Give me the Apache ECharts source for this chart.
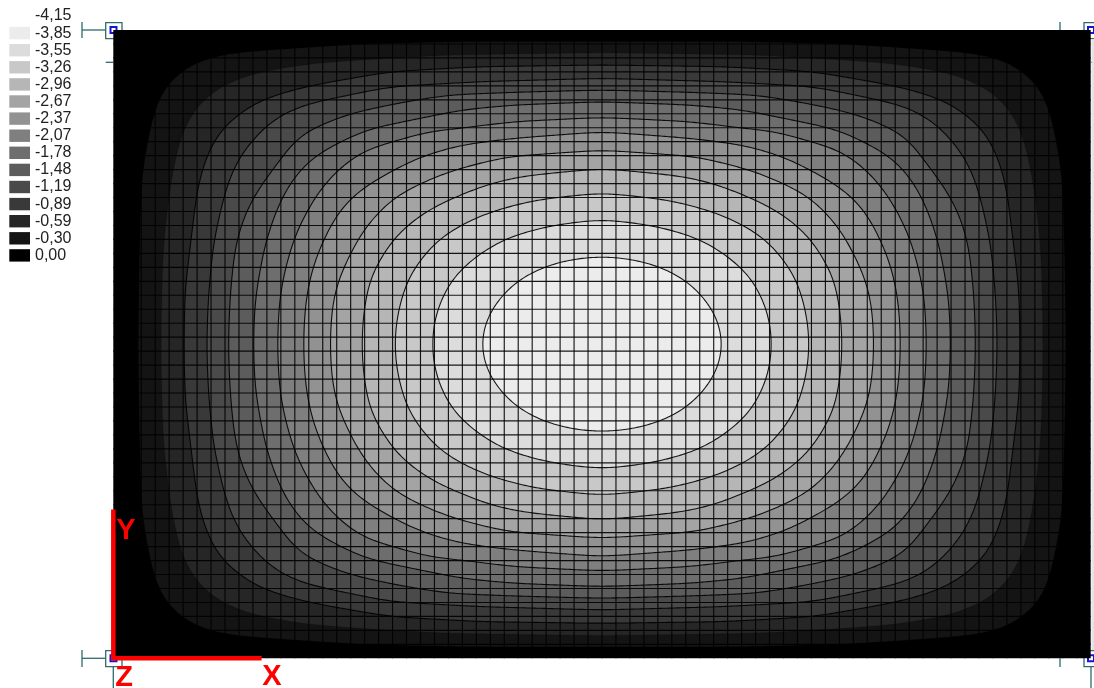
<!DOCTYPE html>
<html><head><meta charset="utf-8">
<style>html,body{margin:0;padding:0;background:#fff}#c{width:1094px;height:688px}</style>
<script src="https://cdn.jsdelivr.net/npm/echarts@6/dist/echarts.min.js"></script>
</head><body><div id="c"></div>
<script>
// Legend: labels top to bottom, swatch under every label but the first
const legendLabels = ['-4,15','-3,85','-3,55','-3,26','-2,96','-2,67','-2,37','-2,07','-1,78','-1,48','-1,19','-0,89','-0,59','-0,30','0,00'];
const legendColors = [null,'#ececec','#dcdcdc','#c8c8c8','#b6b6b6','#a4a4a4','#929292','#7f7f7f','#6e6e6e','#5c5c5c','#4a4a4a','#393939','#262626','#141414','#000000'];
// Plate size, mesh cell size (plate units)
const plateWidth = 2932.3, plateHeight = 1885.05, meshCell = 41.89, meshCols = 70, meshRows = 45;
// Contours, top-left quadrant: mid-left edge to top-centre.
const contour00 = [[75,943],[78,700],[85,450],[100,350],[125,235],[150,175],[200,125],[260,90],[350,70],[500,58],[750,42],[1050,35],[1466,35]];
const contour01 = [[143,943],[145,800],[150,650],[170,470],[195,345],[215,285],[245,235],[300,180],[400,135],[500,115],[600,100],[770,88],[1000,75],[1466,68]];
const contour02 = [[212,943],[215,780],[250,490],[265,420],[300,330],[340,280],[420,220],[500,190],[600,165],[830,125],[1100,110],[1466,105]];
const contour03 = [[280,943],[285,800],[300,640],[336,480],[371,390],[421,325],[470,275],[540,235],[611,215],[830,170],[1100,155],[1466,145]];
const contour04 = [[345,943],[350,800],[365,650],[391,560],[421,500],[461,440],[506,385],[541,330],[596,295],[711,250],[851,220],[1001,195],[1200,187],[1466,180]];
const contour05 = [[420,943],[425,810],[451,660],[471,590],[506,500],[536,450],[591,385],[681,335],[761,298],[871,275],[971,255],[1041,240],[1200,225],[1466,215]];
const contour06 = [[492,943],[498,810],[510,740],[531,660],[551,600],[611,490],[671,420],[751,360],[841,335],[941,305],[1041,295],[1200,275],[1466,262]];
const contour07 = [[570,943],[575,830],[590,740],[616,660],[641,610],[671,550],[716,500],[761,465],[841,420],[921,380],[1041,345],[1200,325],[1466,305]];
const contour08 = [[650,943],[655,840],[670,760],[716,660],[756,590],[836,505],[921,460],[1020,420],[1180,380],[1466,360]];
const contour09 = [[745,943],[750,850],[770,740],[836,630],[876,590],[951,535],[1041,495],[1130,460],[1230,438],[1466,415]];
const contour10 = [[843,943],[850,860],[880,750],[920,690],[971,630],[1041,585],[1131,545],[1265,510],[1466,488]];
const contour11 = [[955,943],[963,860],[1005,760],[1050,710],[1100,670],[1175,625],[1295,590],[1400,575],[1466,568]];
const contour12 = [[1102,943],[1110,890],[1131,840],[1175,785],[1215,748],[1295,708],[1370,688],[1466,678]];
const contours = [contour00,contour01,contour02,contour03,contour04,contour05,contour06,contour07,contour08,contour09,contour10,contour11,contour12];
// Global axes triad, plate units
const triadX = [[0,1885],[445,1885]];
const triadY = [[0,1885],[0,1445]];

const bandFill = legendColors.slice(1, 14).reverse();
function fullRing(q){
  const cx = plateWidth/2, cy = plateHeight/2;
  const mx = p => [2*cx-p[0], p[1]], my = p => [p[0], 2*cy-p[1]];
  const tl = q.slice(0,-1);
  const tr = q.slice().reverse().slice(0,-1).map(mx);
  const br = q.slice(0,-1).map(p => my(mx(p)));
  const bl = q.slice().reverse().slice(0,-1).map(my);
  return tl.concat(tr, br, bl);
}
// Draws a closed, evenly sampled, slightly eased curve through the pixel points
function curve(pts){
  const n = pts.length, spacing = 2, half = 7;
  let len = 0; const seg = [];
  for(let i=0;i<n;i++){const a=pts[i],b=pts[(i+1)%n];const l=Math.hypot(b[0]-a[0],b[1]-a[1]);seg.push(l);len+=l;}
  const count = Math.round(len/spacing); let out = []; let i=0, acc=0;
  for(let k=0;k<count;k++){
    const s=k*len/count;
    while(s>acc+seg[i]){acc+=seg[i];i++;}
    const t=(s-acc)/seg[i],a=pts[i],b=pts[(i+1)%n];
    out.push([a[0]+(b[0]-a[0])*t,a[1]+(b[1]-a[1])*t]);
  }
  for(let pass=0;pass<3;pass++){
    out = out.map((_,k)=>{
      let x=0,y=0;
      for(let j=-half;j<=half;j++){const p=out[(k+j+count)%count];x+=p[0];y+=p[1];}
      return [x/(2*half+1),y/(2*half+1)];
    });
  }
  return out;
}
const supportColor = '#2f6b6b', blue = '#1414d2';
const sq = (x,y,w,h) => ({type:'rect',z:0,shape:{x,y,width:w,height:h},style:{fill:'none',stroke:supportColor,lineWidth:1.3}});
const ln = (x1,y1,x2,y2) => ({type:'line',z:0,shape:{x1,y1,x2,y2},style:{stroke:supportColor,lineWidth:1.3}});
const dot = (x,y) => ({type:'rect',z:0,shape:{x:x-3,y:y-3,width:6,height:6},style:{fill:'none',stroke:blue,lineWidth:2}});
const letter = (t,x,y) => ({type:'text',z:20,x,y,style:{text:t,fill:'#ff0000',font:'bold 29px "Liberation Sans"',textAlign:'center',textVerticalAlign:'middle'}});
const meshLines = [];
for(let i=1;i<meshCols;i++) meshLines.push([i*meshCell,0,i*meshCell,plateHeight]);
for(let j=1;j<meshRows;j++) meshLines.push([0,j*meshCell,plateWidth,j*meshCell]);

const chart = echarts.init(document.getElementById('c'), null, {renderer:'canvas'});
chart.setOption({
  animation:false,
  backgroundColor:'#ffffff',
  grid:[
    {left:113.3,top:30,width:977.4,height:628.3,show:true,backgroundColor:'#000',borderWidth:0,z:3},
    {left:9.3,top:7.45,width:20.7,height:256.5}
  ],
  xAxis:[
    {gridIndex:0,type:'value',min:0,max:plateWidth,show:false},
    {gridIndex:1,type:'value',min:0,max:1,show:false}
  ],
  yAxis:[
    {gridIndex:0,type:'value',inverse:true,min:0,max:plateHeight,show:false},
    {gridIndex:1,type:'category',inverse:true,data:legendLabels,position:'right',axisLine:{show:false},axisTick:{show:false},
     axisLabel:{margin:5,color:'#222',fontFamily:'Liberation Sans',fontSize:16,interval:0}}
  ],
  series:[
    {type:'custom',xAxisIndex:0,yAxisIndex:0,z:4,coordinateSystem:'cartesian2d',silent:true,clip:false,
     encode:{x:0,y:1},
     data:contours.map((c,i)=>[i,i]),
     renderItem:(params,api)=>{
       const i = params.dataIndex;
       const pts = curve(fullRing(contours[i]).map(p=>api.coord(p)));
       return {type:'polygon',shape:{points:pts},
         style:{fill:bandFill[i],stroke:i===0?bandFill[i]:'#000',lineWidth:1.1,strokeOpacity:i<2?0.15:0.9}};
     }},
    {type:'custom',xAxisIndex:0,yAxisIndex:0,z:5,coordinateSystem:'cartesian2d',silent:true,clip:false,
     encode:{x:[0,2],y:[1,3]},
     data:meshLines,
     renderItem:(params,api)=>{
       const a = api.coord([api.value(0),api.value(1)]), b = api.coord([api.value(2),api.value(3)]);
       return {type:'line',shape:{x1:a[0],y1:a[1],x2:b[0],y2:b[1]},style:{stroke:'#000',lineWidth:1.15,opacity:0.9}};
     }},
    {type:'bar',xAxisIndex:1,yAxisIndex:1,barWidth:12.4,silent:true,
     data:legendColors.map(c=> c ? {value:1,itemStyle:{color:c}} : null)},
    {type:'line',xAxisIndex:0,yAxisIndex:0,z:8,silent:true,clip:false,symbol:'none',data:triadX,lineStyle:{color:'#ff0000',width:4.5,cap:'butt'}},
    {type:'line',xAxisIndex:0,yAxisIndex:0,z:8,silent:true,clip:false,symbol:'none',data:triadY,lineStyle:{color:'#ff0000',width:4.5,cap:'square'}}
  ],
  graphic:{elements:[
    sq(105.7,22.7,16.3,16), ln(82,30,105.7,30), ln(82,22,82,38), ln(105.7,62.3,113.3,62.3), dot(113.5,30),
    sq(1084,22.7,16.3,16), ln(1060,22,1060,30), ln(1091,62.3,1094,62.3), dot(1091,30),
    sq(105.7,650.7,16.3,16), ln(82,658.3,105.7,658.3), ln(82,650,82,667), ln(113.3,666.7,113.3,688), dot(113.5,658.3),
    sq(1084,650.7,16.3,16), ln(1060,658.3,1060,667), ln(1091,666.7,1091,688), dot(1091,658.3),
    {type:'rect',z:0,shape:{x:1091.5,y:39,width:3,height:611},style:{fill:'#e4e4e4'}},
    letter('Y',126,531), letter('Z',124,678), letter('X',272,677)
  ]}
});
</script></body></html>
